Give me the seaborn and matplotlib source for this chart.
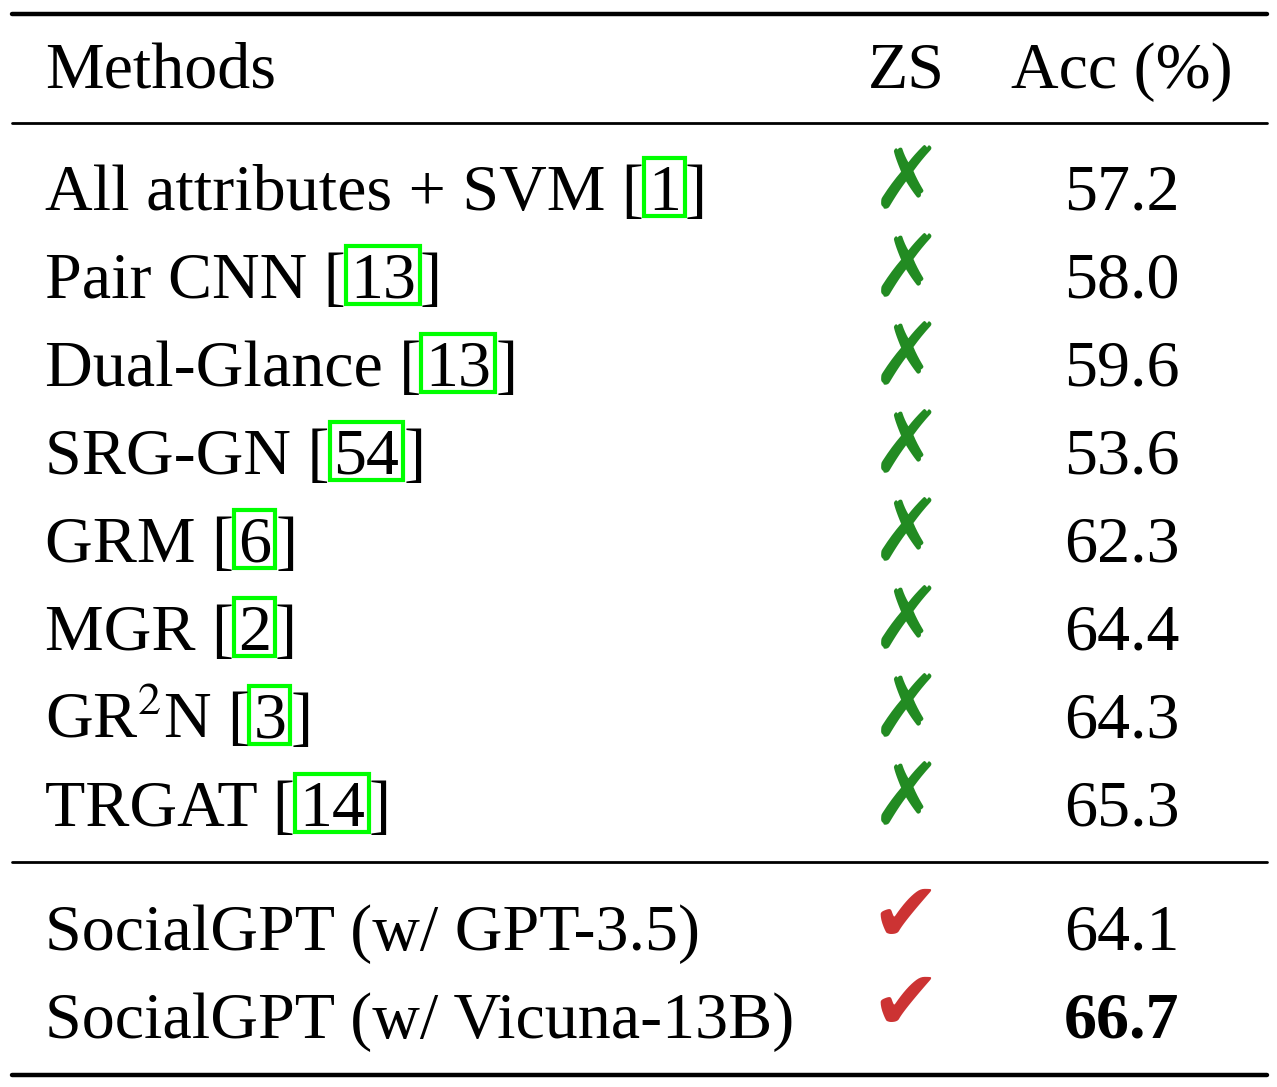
import matplotlib
matplotlib.use("Agg")
import matplotlib.pyplot as plt
import seaborn as sns
from matplotlib.patches import Rectangle

# table contents
methods = ["All attributes + SVM", "Pair CNN", "Dual-Glance", "SRG-GN", "GRM",
           "MGR", "GR$^2$N", "TRGAT",
           "SocialGPT (w/ GPT-3.5)", "SocialGPT (w/ Vicuna-13B)"]
cites = ["1", "13", "13", "54", "6", "2", "3", "14", None, None]
zero_shot = [False] * 8 + [True, True]
acc = [57.2, 58.0, 59.6, 53.6, 62.3, 64.4, 64.3, 65.3, 64.1, 66.7]

sns.set_theme(style="white")
plt.rcParams["font.family"] = ["Liberation Serif", "DejaVu Serif"]
plt.rcParams["mathtext.fontset"] = "stix"
plt.rcParams["text.color"] = "black"

W, H = 1277, 1087
fig = plt.figure(figsize=(W / 100, H / 100), dpi=100)
ax = fig.add_axes([0, 0, 1, 1])
ax.set_xlim(0, W)
ax.set_ylim(H, 0)
ax.axis("off")

fs = 47.5
x_name, x_zs, x_acc = 45, 907, 1122
green = "#00ff00"
pad = 4

ax.text(x_name, 88, "Methods", fontsize=fs, va="baseline")
ax.text(x_zs - 1, 88, "ZS", fontsize=fs, va="baseline", ha="center")
ax.text(x_acc, 88, "Acc (%)", fontsize=fs, va="baseline", ha="center")

# rules
ax.plot([12, 1267], [14, 14], color="black", lw=3.2)
ax.plot([12, 1267], [123, 123], color="black", lw=2)
ax.plot([12, 1267], [862, 862], color="black", lw=2)
ax.plot([12, 1267], [1075, 1075], color="black", lw=3.2)

renderer = fig.canvas.get_renderer()
inv = ax.transData.inverted()


def right_edge(t):
    bb = t.get_window_extent(renderer)
    return inv.transform((bb.x1, 0))[0]


baselines = [210, 298, 386, 474, 562, 650, 738, 826, 950, 1038]
for name, c, zs, a, yb in zip(methods, cites, zero_shot, acc, baselines):
    if c is not None:
        t = ax.text(x_name, yb, name + " [", fontsize=fs, va="baseline")
        x0 = right_edge(t)
        t2 = ax.text(x0 + pad, yb, c, fontsize=fs, va="baseline")
        x1 = right_edge(t2) + pad
        ax.add_patch(Rectangle((x0, yb - 52), x1 - x0, 58, fill=False,
                               edgecolor=green, lw=3))
        ax.text(x1, yb, "]", fontsize=fs, va="baseline")
    else:
        ax.text(x_name, yb, name, fontsize=fs, va="baseline")
    if zs:
        ax.text(x_zs - 2, yb - 32, "\u2714", fontsize=60, va="center", ha="center",
                color="#cc3333", family="DejaVu Sans")
    else:
        ax.text(x_zs, yb - 25, "\u2717", fontsize=62, va="center", ha="center",
                color="#228b22", family="DejaVu Sans")
    ax.text(x_acc, yb, f"{a:.1f}", fontsize=fs, va="baseline", ha="center",
            fontweight="bold" if a == max(acc) else "normal")

fig.savefig("out.png", dpi=100)
